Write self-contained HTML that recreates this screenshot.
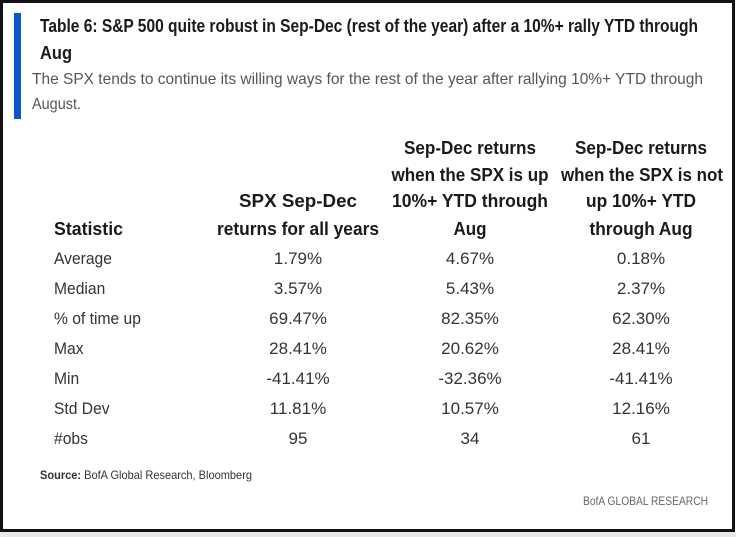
<!DOCTYPE html>
<html><head><meta charset="utf-8"><style>
html,body{margin:0;padding:0;background:#fff;}
svg{display:block;}
text{font-family:"Liberation Sans Narrow","Liberation Sans",sans-serif;}
.h{font-weight:bold;font-size:18px;fill:#1a1a1a;}
.d{font-size:17px;fill:#333;}
</style></head><body>
<svg width="736" height="537" viewBox="0 0 736 537" xmlns="http://www.w3.org/2000/svg">
<rect x="0" y="531" width="736" height="6" fill="#e8e8e8"/>
<rect x="1.5" y="1.5" width="732" height="529" fill="#fff" stroke="#111" stroke-width="3"/>
<rect x="14" y="13" width="7" height="106" fill="#0a55c8"/>
<text x="40" y="32" class="h" font-size="17" textLength="658" lengthAdjust="spacingAndGlyphs">Table 6: S&amp;P 500 quite robust in Sep-Dec (rest of the year) after a 10%+ rally YTD through</text>
<text x="40" y="59" class="h" font-size="17" textLength="32" lengthAdjust="spacingAndGlyphs">Aug</text>
<text x="32" y="84" font-size="16" fill="#555" textLength="671" lengthAdjust="spacingAndGlyphs">The SPX tends to continue its willing ways for the rest of the year after rallying 10%+ YTD through</text>
<text x="32" y="109" font-size="16" fill="#555" textLength="49" lengthAdjust="spacingAndGlyphs">August.</text>

<g class="h" text-anchor="middle">
<text x="298" y="207" textLength="118" lengthAdjust="spacingAndGlyphs">SPX Sep-Dec</text>
<text x="298" y="235" textLength="162" lengthAdjust="spacingAndGlyphs">returns for all years</text>
<text x="470" y="154" textLength="132" lengthAdjust="spacingAndGlyphs">Sep-Dec returns</text>
<text x="470" y="181" textLength="157" lengthAdjust="spacingAndGlyphs">when the SPX is up</text>
<text x="470" y="207" textLength="156" lengthAdjust="spacingAndGlyphs">10%+ YTD through</text>
<text x="470" y="235" textLength="33" lengthAdjust="spacingAndGlyphs">Aug</text>
<text x="641" y="154" textLength="132" lengthAdjust="spacingAndGlyphs">Sep-Dec returns</text>
<text x="642" y="181" textLength="162" lengthAdjust="spacingAndGlyphs">when the SPX is not</text>
<text x="641" y="207" textLength="110" lengthAdjust="spacingAndGlyphs">up 10%+ YTD</text>
<text x="641" y="235" textLength="103" lengthAdjust="spacingAndGlyphs">through Aug</text>
</g>
<text x="54" y="235" class="h" text-anchor="start" textLength="69" lengthAdjust="spacingAndGlyphs">Statistic</text>

<g class="d" transform="scale(0.92,1)">
<text x="58.7" y="264">Average</text>
<text x="58.7" y="294">Median</text>
<text x="58.7" y="324">% of time up</text>
<text x="58.7" y="354">Max</text>
<text x="58.7" y="384">Min</text>
<text x="58.7" y="414">Std Dev</text>
<text x="58.7" y="444">#obs</text>
</g>
<g class="d" text-anchor="middle">
<text x="298" y="264">1.79%</text><text x="470" y="264">4.67%</text><text x="641" y="264">0.18%</text>
<text x="298" y="294">3.57%</text><text x="470" y="294">5.43%</text><text x="641" y="294">2.37%</text>
<text x="298" y="324">69.47%</text><text x="470" y="324">82.35%</text><text x="641" y="324">62.30%</text>
<text x="298" y="354">28.41%</text><text x="470" y="354">20.62%</text><text x="641" y="354">28.41%</text>
<text x="298" y="384">-41.41%</text><text x="470" y="384">-32.36%</text><text x="641" y="384">-41.41%</text>
<text x="298" y="414">11.81%</text><text x="470" y="414">10.57%</text><text x="641" y="414">12.16%</text>
<text x="298" y="444">95</text><text x="470" y="444">34</text><text x="641" y="444">61</text>
</g>
<text x="40" y="479" font-size="12" fill="#333" textLength="212" lengthAdjust="spacingAndGlyphs"><tspan font-weight="bold">Source:</tspan> BofA Global Research, Bloomberg</text>
<text x="583" y="505" font-size="12" fill="#666" textLength="125" lengthAdjust="spacingAndGlyphs">BofA GLOBAL RESEARCH</text>
</svg>
</body></html>
